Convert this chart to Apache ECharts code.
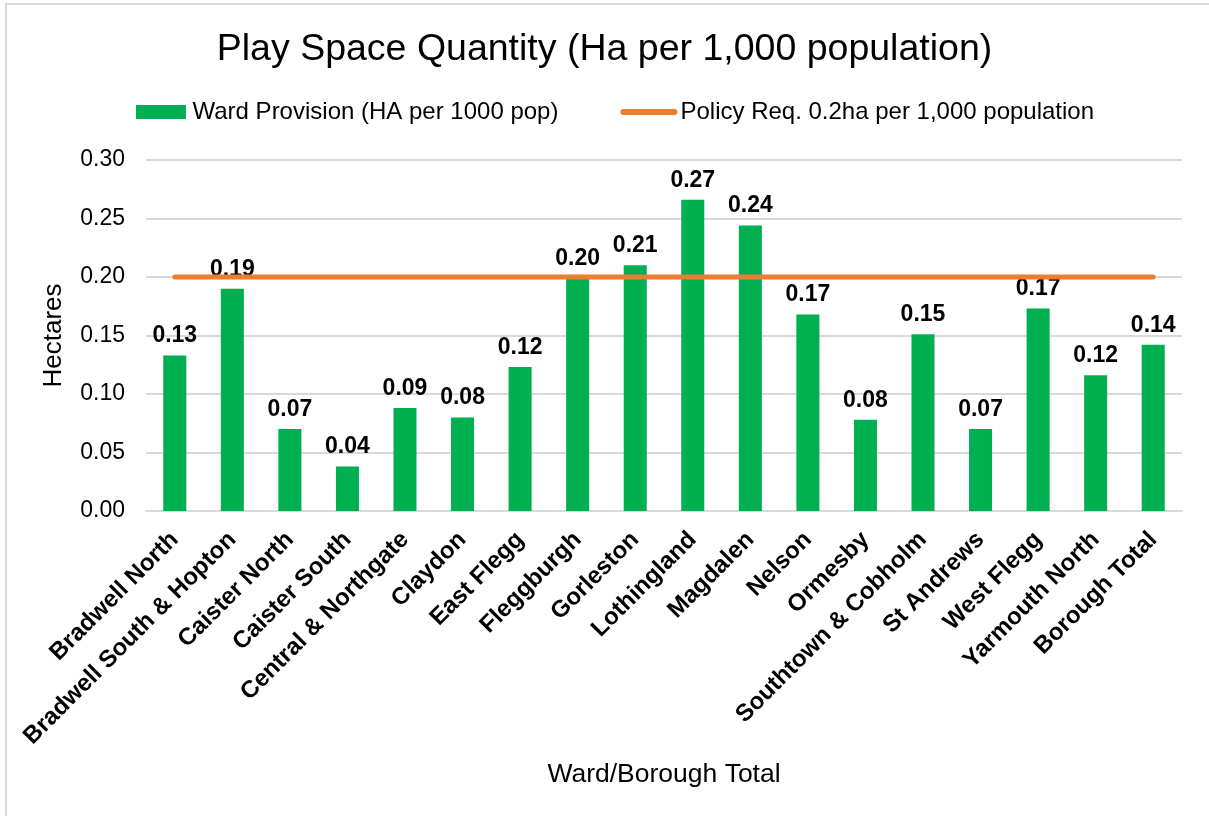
<!DOCTYPE html>
<html>
<head>
<meta charset="utf-8">
<script src="https://cdn.jsdelivr.net/npm/echarts@6/dist/echarts.min.js"></script>
<style>
  body { margin: 0; background: #fff; overflow: hidden; }
  #frame { position: absolute; left: 5px; top: 3px; width: 1300px; height: 900px; border: 2px solid #d9d9d9; }
  #main { position: absolute; left: 0; top: 0; width: 1209px; height: 816px; }
</style>
</head>
<body>
<div id="frame"></div>
<div id="main"></div>
<script>
const wards = [
  "Bradwell North", "Bradwell South & Hopton", "Caister North", "Caister South",
  "Central & Northgate", "Claydon", "East Flegg", "Fleggburgh", "Gorleston",
  "Lothingland", "Magdalen", "Nelson", "Ormesby", "Southtown & Cobholm",
  "St Andrews", "West Flegg", "Yarmouth North", "Borough Total"
];
const provision = [
  0.133, 0.19, 0.07, 0.038, 0.088, 0.080, 0.123, 0.199, 0.21,
  0.266, 0.244, 0.168, 0.078, 0.151, 0.07, 0.173, 0.116, 0.142
];
const policyReq = wards.map(() => 0.2);

const font = 'Arial, "Liberation Sans", sans-serif';
const myChart = echarts.init(document.getElementById("main"));

const option = {
  animation: false,
  textStyle: { fontFamily: font, color: "#000" },
  title: {
    text: "Play Space Quantity (Ha per 1,000 population)",
    left: "center",
    top: 26,
    textStyle: { fontFamily: font, fontSize: 37.5, fontWeight: "normal", color: "#000" },
  },
  legend: {
    top: 95,
    left: 131,
    itemGap: 62,
    itemWidth: 57,
    itemHeight: 14,
    symbolKeepAspect: true,
    textStyle: { fontFamily: font, fontSize: 24, color: "#000", padding: [0, 0, 0, -2] },
    data: [
      { name: "Ward Provision (HA per 1000 pop)", icon: "path://M0,0 H50 V14 H0 Z" },
      {
        name: "Policy Req. 0.2ha per 1,000 population",
        icon: "path://M3,0 H54 A3,3 0 0 1 54,6 H3 A3,3 0 0 1 3,0 Z",
      },
    ],
  },
  grid: {
    left: 146,
    right: 27,
    top: 160,
    bottom: 305,
    outerBoundsMode: "none",
  },
  xAxis: {
    type: "category",
    data: wards,
    name: "Ward/Borough Total",
    nameLocation: "middle",
    nameGap: 250,
    nameTextStyle: { fontFamily: font, fontSize: 26.5, color: "#000" },
    axisLine: { lineStyle: { color: "#d9d9d9", width: 2 } },
    axisTick: { show: false },
    axisLabel: {
      interval: 0,
      rotate: 45,
      margin: 25,
      fontFamily: font,
      fontSize: 24,
      fontWeight: "bold",
      color: "#000",
    },
  },
  yAxis: {
    type: "value",
    min: 0,
    max: 0.3,
    interval: 0.05,
    name: "Hectares",
    nameLocation: "middle",
    nameGap: 79,
    nameTextStyle: { fontFamily: font, fontSize: 26, color: "#000" },
    axisLine: { show: false },
    axisTick: { show: false },
    axisLabel: {
      margin: 21,
      fontFamily: font,
      fontSize: 23,
      color: "#000",
      formatter: (v) => v.toFixed(2),
    },
    splitLine: { lineStyle: { color: "#d9d9d9", width: 2 } },
  },
  series: [
    {
      name: "Ward Provision (HA per 1000 pop)",
      type: "bar",
      data: provision,
      barWidth: "40%",
      itemStyle: { color: "#00b050" },
      label: {
        show: true,
        position: "top",
        distance: 8,
        fontFamily: font,
        fontSize: 23,
        fontWeight: "bold",
        color: "#000",
        formatter: (p) => p.value.toFixed(2),
      },
      z: 2,
    },
    {
      name: "Policy Req. 0.2ha per 1,000 population",
      type: "line",
      data: policyReq,
      symbol: "none",
      lineStyle: { color: "#ed7d31", width: 5, cap: "round" },
      itemStyle: { color: "#ed7d31" },
      z: 3,
    },
  ],
};

myChart.setOption(option);
</script>
</body>
</html>
